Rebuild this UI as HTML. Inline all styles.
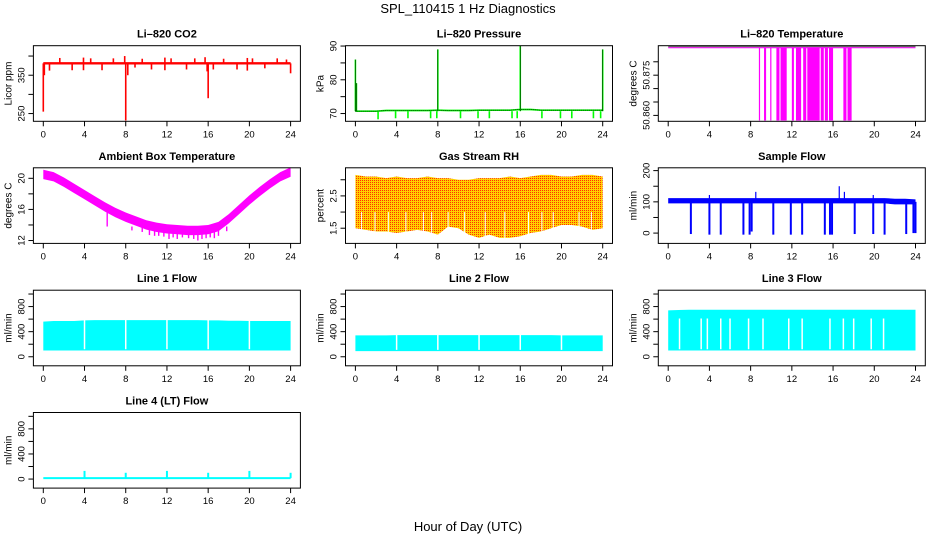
<!DOCTYPE html>
<html><head><meta charset="utf-8"><style>
body{margin:0;background:#fff}
svg{display:block;font-family:"Liberation Sans",sans-serif}
</style></head><body>
<svg id="c" width="936" height="540">
<defs><pattern id="chk" width="2" height="2" patternUnits="userSpaceOnUse"><rect width="2" height="2" fill="#ffd000"/><rect width="1" height="1" fill="#ff3000"/></pattern></defs>
<text x="468" y="13" text-anchor="middle" font-size="13">SPL_110415  1 Hz Diagnostics</text>
<text x="468" y="531" text-anchor="middle" font-size="13">Hour of Day (UTC)</text>
</svg>
<script>
const hours=[0,1,2,3,4,5,6,7,8,9,10,11,12,13,14,15,16,17,18,19,20,21,22,23,24];
const xTicks=[0,4,8,12,16,20,24];
// CO2
const co2Base=[381,381,381,381,381,381,381,381,381,381,381,381,381,381,381,381,381,381,381,381,381,381,381,381,381];
const co2UpT=[1.6,3.9,4.6,6.8,7.9,9.6,11.8,12.4,14.7,15.7,17.5,19.8,20.3,22.7,23.6];
const co2UpV=[395,396,394,394,400,393,396,394,394,397,393,395,394,394,391];
const co2DnT=[0,0.1,0.6,2.8,3.9,5.7,8.0,8.2,8.9,10.5,11.8,13.9,15.9,16.0,16.5,18.8,19.8,21.5,24.0];
const co2DnV=[255,350,362,363,363,363,232,350,370,365,363,365,360,290,365,365,362,368,355];
// Pressure
const presBase=[70.7,70.7,70.7,70.9,70.9,70.9,70.9,70.9,71,70.9,70.9,70.9,71,71,71,71,71.2,71.2,71,71,71,71,71,71,71];
const presDipT=[2.2,3.9,5.1,7.3,7.9,10.2,11.9,13.0,15.2,15.7,18.1,19.9,21.0,23.1,23.8];
const presDipV=[68.3,68.6,68.6,68.6,68.6,68.6,68.6,68.6,68.6,68.6,68.6,68.6,68.6,68.6,68.6];
const presSpkT=[0,0.1,8.0,16.0,24.0];
const presSpkV=[86,79,89,90,89];
// Li-820 temperature
const tempHigh=50.8854, tempLow=50.8581;
const tempBarS=[8.8,9.3,9.9,10.5,10.9,12.0,12.4,13.1,13.5,14.8,15.2,15.6,17.0,17.4];
const tempBarE=[8.85,9.5,10.0,10.8,11.5,12.2,12.9,13.4,14.7,15.1,15.5,16.0,17.3,17.8];
// Ambient
const ambMid=[20.5,20.2,19.5,18.7,17.9,17.1,16.3,15.6,15.0,14.5,14.0,13.7,13.5,13.4,13.3,13.3,13.4,13.8,14.8,16.0,17.2,18.3,19.3,20.2,20.8];
const ambDipT=[6.2,8.6,9.6,10.3,10.8,11.2,11.7,12.2,12.6,13.0,13.5,14.1,14.6,15.0,15.4,15.8,16.2,16.6,17.0,17.8];
const ambDipV=[15.6,13.3,13.1,12.7,12.6,12.6,12.5,12.2,12.4,12.2,12.4,12.3,12.2,12.0,12.2,12.3,12.4,12.3,12.6,13.2];
// Gas RH
const rhTop=[3.15,3.1,3.1,3.05,3.1,3.05,3.05,3.1,3.05,3.05,3.0,3.0,3.05,3.05,3.05,3.1,3.05,3.1,3.15,3.15,3.1,3.1,3.15,3.15,3.1];
const rhBot=[1.5,1.45,1.4,1.4,1.35,1.4,1.45,1.4,1.3,1.55,1.5,1.3,1.2,1.3,1.2,1.2,1.25,1.35,1.4,1.5,1.6,1.6,1.55,1.45,1.5];
const rhGapT=[0.6,1.9,3.2,4.9,6.6,7.4,9.0,10.6,12.6,14.5,16.8,18.1,19.2,21.7,22.9];
// Sample flow
const sfTop=[112,112,112,112,112,112,112,112,112,112,112,112,112,112,112,112,112,112,112,112,112,112,110,110,108];
const sfBot=[95,95,95,95,95,95,95,95,95,95,95,95,95,95,95,95,95,95,95,95,95,95,92,92,92];
const sfDipT=[2.2,4.0,5.1,7.3,7.9,8.1,10.2,11.9,13.0,15.2,15.7,15.9,18.1,19.9,21.0,23.1,23.8,24.0];
const sfDipV=[-3,-5,-5,-5,-5,5,-5,-5,-5,-5,-5,-5,-3,-3,-5,-3,0,0];
const sfSpkT=[4.0,8.5,16.6,17.1,19.9];
const sfSpkV=[122,132,150,132,122];
// Line flows
const l1Top=[560,570,570,570,580,585,585,585,585,585,585,585,585,585,585,585,580,580,575,575,570,570,570,570,570];
const l1Bot=[100,100,100,100,100,100,100,100,100,100,100,100,100,100,100,100,100,100,100,100,100,100,100,100,100];
const l2Top=[340,340,340,340,345,345,345,345,345,345,345,345,345,345,345,345,345,345,345,345,340,340,340,340,340];
const l2Bot=[90,90,90,90,90,90,90,90,90,90,90,90,90,90,90,90,90,90,90,90,90,90,90,90,90];
const l3Top=[740,745,750,750,750,750,750,750,750,750,750,750,750,750,750,750,750,750,750,750,750,750,750,750,750];
const l3Bot=[100,100,100,100,100,100,100,100,100,100,100,100,100,100,100,100,100,100,100,100,100,100,100,100,100];
const lineGapT=[4,8,12,16,20];
const l3GapT=[1.1,3.2,3.8,5.1,6.0,7.8,9.2,11.7,13.0,15.7,17.0,18.0,19.7,20.9];
const l4Base=[15,15,15,15,15,15,15,15,15,15,15,15,15,15,15,15,15,15,15,15,15,15,15,15,15];
const l4SpkT=[4,8,12,16,20,24];
const l4SpkV=[130,100,130,100,130,100];

const svg=document.getElementById('c');
const NS='http://www.w3.org/2000/svg';
const colL=[33.4,345.5,658.3], rowT=[45.7,167.8,290.2,412.5], W=267, H=75.6;
function mk(t,a,p){const e=document.createElementNS(NS,t);for(const k in a)e.setAttribute(k,a[k]);(p||svg).appendChild(e);return e;}
function panel(col,row,title,ylab,ymin,ymax,yt,yl,name){
  const L=colL[col],T=rowT[row];
  const g=mk('g',{});
  
  
  const P={g,x:h=>L+9.9+h*247.3/24,y:v=>T+(ymax-v)/(ymax-ymin)*H,L,T};
  P.clip=mk('g',{},g);
  const box=mk('rect',{x:L,y:T,width:W,height:H,fill:'none',stroke:'#000','stroke-width':1},g);
  
  
  const tt=mk('text',{x:L+W/2,y:T-8,'text-anchor':'middle','font-size':11,'font-weight':'bold'},g);tt.textContent=title;
  
  
  const yx=mk('text',{transform:`translate(${L-22},${T+H/2}) rotate(-90)`,'text-anchor':'middle','font-size':10},g);yx.textContent=ylab;
  
  
  const xa=mk('g',{},g);
  
  
  xTicks.forEach(h=>{const X=P.x(h);mk('line',{x1:X,x2:X,y1:T+H,y2:T+H+5,stroke:'#000'},xa);
    const t=mk('text',{x:X,y:T+H+16,'text-anchor':'middle','font-size':9.5},xa);t.textContent=h;});
  const ya=mk('g',{},g);
  
  
  yt.forEach(v=>{const Y=P.y(v);mk('line',{x1:L-5,x2:L,y1:Y,y2:Y,stroke:'#000'},ya);});
  yl.forEach(v=>{const Y=P.y(v);const t=mk('text',{transform:`translate(${L-9},${Y}) rotate(-90)`,'text-anchor':'middle','font-size':9.5},ya);t.textContent=v;});
  return P;
}
function band(P,top,bot,fill,nm){const pts=hours.map((h,i)=>P.x(h)+','+P.y(top[i])).concat(hours.slice().reverse().map((h,j)=>{const i=hours.length-1-j;return P.x(h)+','+P.y(bot[i]);}));
  const e=mk('polygon',{points:pts.join(' '),fill:fill},P.clip);
  
  return e;}
function vlines(P,ts,v0,vs,color,w,nm){ts.forEach((t,i)=>{const e=mk('line',{x1:P.x(t),x2:P.x(t),y1:P.y(Array.isArray(v0)?v0[i]:v0),y2:P.y(vs[i]),stroke:color,'stroke-width':w},P.clip);
  
  });}
function thick(P,vals,lo,hi,color,nm){band(P,vals.map(v=>v+hi),vals.map(v=>v-lo),color,nm);}

// CO2
let P=panel(0,0,'Li\u2013820 CO2','Licor ppm',229.8,427,[250,300,350,400],[250,350],'co2-panel');
thick(P,co2Base,3,3,'#ff0000','co2-series');
vlines(P,co2UpT,381,co2UpV,'#ff0000',1.6,'co2-spike');
vlines(P,co2DnT,381,co2DnV,'#ff0000',1.6,'co2-dip');
// Pressure
P=panel(1,0,'Li\u2013820 Pressure','kPa',67.7,90.1,[70,75,80,85,90],[70,80,90],'pressure-panel');
thick(P,presBase,0.25,0.25,'#00ff00','pressure-series');
vlines(P,presDipT,presBase[0],presDipV,'#00ff00',1.6,'pressure-dip');
vlines(P,presSpkT,presBase[0],presSpkV,'#00ff00',1.6,'pressure-spike');
mk('polyline',{points:hours.map((h,i)=>P.x(h)+','+P.y(presBase[i])).join(' '),fill:'none',stroke:'#000','stroke-dasharray':'1,1','stroke-width':0.8},P.clip);
vlines(P,presSpkT,presBase[0],presSpkV,'#000',0.5,'pressure-spike-line');
// Temperature
P=panel(2,0,'Li\u2013820 Temperature','degrees C',50.8578,50.886,[50.86,50.865,50.87,50.875,50.88],['50.860','50.875'],'li820-temp-panel');
mk('line',{x1:P.x(0),x2:P.x(24),y1:P.y(tempHigh)-0.5,y2:P.y(tempHigh)-0.5,stroke:'#555','stroke-width':1},P.clip);
mk('line',{x1:P.x(0),x2:P.x(24),y1:P.y(tempHigh)+0.5,y2:P.y(tempHigh)+0.5,stroke:'#ff00ff','stroke-width':1},P.clip);
tempBarS.forEach((s,i)=>{const e=mk('rect',{x:P.x(s),y:P.y(tempHigh),width:Math.max(1.2,P.x(tempBarE[i])-P.x(s)),height:P.y(tempLow)-P.y(tempHigh),fill:'#ff00ff'},P.clip);
  
  });
// Ambient
P=panel(0,1,'Ambient Box Temperature','degrees C',11.63,21.35,[12,14,16,18,20],[12,16,20],'ambient-panel');
thick(P,ambMid,0.6,0.6,'#ff00ff','ambient-series');
vlines(P,ambDipT,ambMid[12]+0.3,ambDipV,'#ff00ff',1.4,'ambient-dip');
// RH
P=panel(1,1,'Gas Stream RH','percent',1.03,3.37,[1.5,2,2.5,3],[1.5,2.5],'rh-panel');
band(P,rhTop,rhBot,'url(#chk)','rh-series');
vlines(P,rhGapT,2.0,rhGapT.map(()=>1.1),'#fff',1,'rh-gap');
// Sample flow
P=panel(2,1,'Sample Flow','ml/min',-33,209,[0,50,100,150,200],[0,100,200],'sample-flow-panel');
band(P,sfTop,sfBot,'#0000ff','sample-flow-series');
vlines(P,sfDipT,100,sfDipV,'#0000ff',2,'sample-flow-dip');
vlines(P,sfSpkT,100,sfSpkV,'#0000ff',1.2,'sample-flow-spike');
// Line flows
const yt=[0,200,400,600,800,1000],yl=[0,400,800];
P=panel(0,2,'Line 1 Flow','ml/min',-144,1061,yt,yl,'line1-panel');
band(P,l1Top,l1Bot,'#00ffff','line1-series');
vlines(P,lineGapT,l1Bot[0]+20,lineGapT.map(()=>600),'#fff',1.5,'line1-gap');
P=panel(1,2,'Line 2 Flow','ml/min',-144,1061,yt,yl,'line2-panel');
band(P,l2Top,l2Bot,'#00ffff','line2-series');
vlines(P,lineGapT,l2Bot[0]+20,lineGapT.map(()=>360),'#fff',1.5,'line2-gap');
P=panel(2,2,'Line 3 Flow','ml/min',-144,1061,yt,yl,'line3-panel');
band(P,l3Top,l3Bot,'#00ffff','line3-series');
vlines(P,l3GapT,l3Bot[0]+20,l3GapT.map(()=>610),'#fff',1.5,'line3-gap');
P=panel(0,3,'Line 4 (LT) Flow','ml/min',-144,1061,yt,yl,'line4-panel');
thick(P,l4Base,15,15,'#00ffff','line4-series');
vlines(P,l4SpkT,15,l4SpkV,'#00ffff',2,'line4-spike');
</script>
</body></html>
